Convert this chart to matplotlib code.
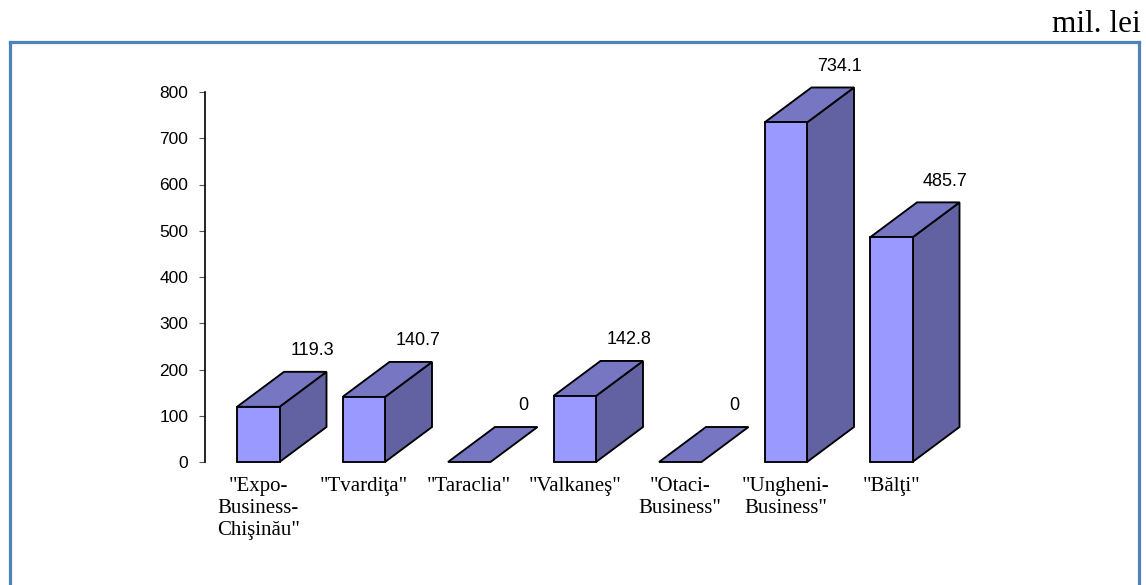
import matplotlib
matplotlib.use("Agg")
import matplotlib.pyplot as plt
from matplotlib.patches import Polygon
from matplotlib.lines import Line2D

categories = ['"Expo-\nBusiness-\nChişinău"', '"Tvardiţa"', '"Taraclia"', '"Valkaneş"',
              '"Otaci-\nBusiness"', '"Ungheni-\nBusiness"', '"Bălţi"']
values = [119.3, 140.7, 0, 142.8, 0, 734.1, 485.7]
value_labels = ["119.3", "140.7", "0", "142.8", "0", "734.1", "485.7"]
yticks = [0, 100, 200, 300, 400, 500, 600, 700, 800]

W, H = 1146, 585
fig = plt.figure(figsize=(W / 100, H / 100), dpi=100)

ax_left_px, ax_right_px, ax_top_px, ax_bot_px = 205, 1000, 92, 462
ax = fig.add_axes([ax_left_px / W, 1 - ax_bot_px / H,
                   (ax_right_px - ax_left_px) / W, (ax_bot_px - ax_top_px) / H])

slot_px = 105.5
x0 = -(258.25 - ax_left_px) / slot_px
x1 = x0 + (ax_right_px - ax_left_px) / slot_px
ax.set_xlim(x0, x1)
ax.set_ylim(0, 800)

px_per_val = (ax_bot_px - ax_top_px) / 800.0
bw = 42.5 / slot_px
dx = 47.0 / slot_px
dy = 35.0 / px_per_val

front_c = "#9999FF"
top_c = "#7676C2"
side_c = "#6262A2"
lw = 1.35

for i, v in enumerate(values):
    l, r = i - bw / 2, i + bw / 2
    if v > 0:
        side = Polygon([(r, 0), (r + dx, dy), (r + dx, v + dy), (r, v)], closed=True,
                       facecolor=side_c, edgecolor="black", lw=lw, clip_on=False, joinstyle="miter")
        ax.add_patch(side)
    top = Polygon([(l, v), (r, v), (r + dx, v + dy), (l + dx, v + dy)], closed=True,
                  facecolor=top_c, edgecolor="black", lw=lw, clip_on=False, joinstyle="miter")
    ax.add_patch(top)
    if v > 0:
        front = Polygon([(l, 0), (r, 0), (r, v), (l, v)], closed=True,
                        facecolor=front_c, edgecolor="black", lw=lw, clip_on=False, joinstyle="miter")
        ax.add_patch(front)
    ax.text(i + 54 / slot_px, v + dy + 21 / px_per_val, value_labels[i],
            ha="center", va="center", fontsize=13, family="Liberation Sans", color="black")

for s in ["top", "right", "bottom"]:
    ax.spines[s].set_visible(False)
ax.spines["left"].set_linewidth(1.2)
ax.spines["left"].set_color("black")

ax.set_yticks(yticks)
ax.set_yticklabels([str(t) for t in yticks], family="Liberation Sans", fontsize=12.5)
ax.tick_params(axis="y", length=4, width=0.8, direction="out", pad=8, color="#555555")

ax.set_xticks(range(len(categories)))
ax.set_xticklabels(categories, family="Liberation Serif", fontsize=15, linespacing=1.22)
ax.tick_params(axis="x", length=0, pad=11)
ax.patch.set_alpha(0)

# border frame (blue) and unit label
bc = "#4F81BD"
blw = 2.3
fig.add_artist(Line2D([9.5 / W, 9.5 / W], [-0.05, 1 - 42 / H], transform=fig.transFigure, color=bc, lw=blw))
fig.add_artist(Line2D([9.5 / W, 1138.5 / W], [1 - 42 / H, 1 - 42 / H], transform=fig.transFigure, color=bc, lw=blw))
fig.add_artist(Line2D([1138.5 / W, 1138.5 / W], [-0.05, 1 - 42 / H], transform=fig.transFigure, color=bc, lw=blw))

fig.text(1141 / W, 1 - 32 / H, "mil. lei", ha="right", va="baseline",
         family="Liberation Serif", fontsize=22.5)

fig.savefig("out.png", dpi=100)
